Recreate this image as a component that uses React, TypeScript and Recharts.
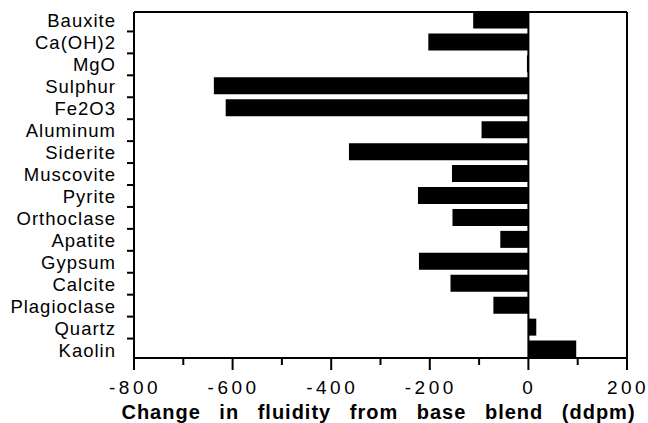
import { Bar, BarChart, ReferenceLine, XAxis, YAxis } from 'recharts'

const minerals = [
  'Bauxite',
  'Ca(OH)2',
  'MgO',
  'Sulphur',
  'Fe2O3',
  'Aluminum',
  'Siderite',
  'Muscovite',
  'Pyrite',
  'Orthoclase',
  'Apatite',
  'Gypsum',
  'Calcite',
  'Plagioclase',
  'Quartz',
  'Kaolin',
]

// change in fluidity from base blend, ddpm
const fluidityChange = [-112, -203, -3, -638, -614, -95, -364, -155, -224, -154, -57, -222, -158, -71, 16, 97]

const xTicks = [-800, -700, -600, -500, -400, -300, -200, -100, 0, 100, 200]

const data = minerals.map((name, i) => ({ name, change: fluidityChange[i] }))

const WIDTH = 648
const HEIGHT = 423
// top/right frame axes take 1px each
const MARGIN = { top: 11, right: 20, bottom: 0, left: 0 }
const X_AXIS_HEIGHT = 65
const BAND_PAD = -2.5
const ROW = (HEIGHT - MARGIN.top - 1 - X_AXIS_HEIGHT - 2 * BAND_PAD) / minerals.length
const FONT = '"Liberation Sans", Arial, Helvetica, sans-serif'

function MineralTick({ x, y, payload, index }: any) {
  return (
    <g>
      <text x={x - 18} y={y} dy={7} textAnchor="end" fontSize={18.5} letterSpacing={1} fill="#000" fontFamily={FONT}>
        {payload.value}
      </text>
      {index < minerals.length - 1 && (
        <line x1={x - 7} x2={x} y1={y + ROW / 2} y2={y + ROW / 2} stroke="#000" strokeWidth={2} />
      )}
    </g>
  )
}

function FluidityTick({ x, y, payload }: any) {
  const major = payload.value % 200 === 0
  return (
    <g>
      <line x1={x} x2={x} y1={y} y2={y + (major ? 12 : 7)} stroke="#000" strokeWidth={2} />
      {major && (
        <text x={x} y={y + 36} dx={1} textAnchor="middle" fontSize={19} letterSpacing={3.5} fill="#000" fontFamily={FONT}>
          {payload.value}
        </text>
      )}
    </g>
  )
}

function AxisTitle({ viewBox }: any) {
  return (
    <text
      x={viewBox.x + viewBox.width / 2 - 2}
      y={viewBox.y + 61}
      textAnchor="middle"
      fontSize={20}
      fontWeight="bold"
      letterSpacing={1}
      wordSpacing={12}
      fill="#000"
      fontFamily={FONT}
    >
      Change in fluidity from base blend (ddpm)
    </text>
  )
}

export default function App() {
  return (
    <div style={{ width: WIDTH, height: HEIGHT, background: '#fff' }}>
      <style>{'body{margin:0}'}</style>
      <BarChart width={WIDTH} height={HEIGHT} data={data} layout="vertical" margin={MARGIN}>
        <XAxis
          type="number"
          domain={[-800, 200]}
          ticks={xTicks}
          interval={0}
          height={X_AXIS_HEIGHT}
          tickSize={0}
          tickMargin={0}
          tickLine={false}
          tick={<FluidityTick />}
          axisLine={{ stroke: '#000', strokeWidth: 2 }}
          label={{ content: AxisTitle }}
        />
        <XAxis
          xAxisId="top"
          orientation="top"
          type="number"
          domain={[-800, 200]}
          height={1}
          tick={false}
          tickLine={false}
          axisLine={{ stroke: '#000', strokeWidth: 2 }}
        />
        <YAxis
          type="category"
          dataKey="name"
          width={134}
          interval={0}
          padding={{ top: BAND_PAD, bottom: BAND_PAD }}
          tickSize={0}
          tickMargin={0}
          tickLine={false}
          tick={<MineralTick />}
          axisLine={{ stroke: '#000', strokeWidth: 2 }}
        />
        <YAxis
          yAxisId="right"
          orientation="right"
          type="category"
          dataKey="name"
          width={1}
          tick={false}
          tickLine={false}
          axisLine={{ stroke: '#000', strokeWidth: 2 }}
        />
        <Bar dataKey="change" fill="#000" barSize={17} isAnimationActive={false} />
        <ReferenceLine x={0} stroke="#000" strokeWidth={2} />
      </BarChart>
    </div>
  )
}
